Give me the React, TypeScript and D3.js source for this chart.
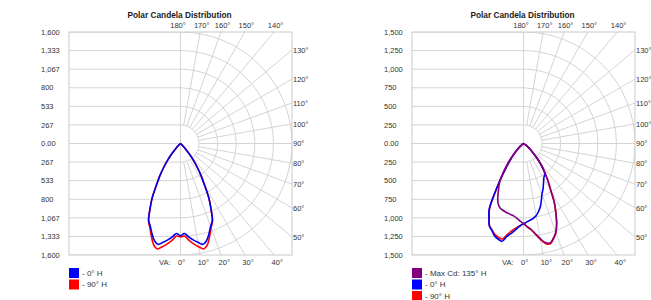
import {useEffect, useRef} from 'react';
import * as d3 from 'd3';

// vertical angles (deg), 0 = straight down
const vertAngles = [0, 2.5, 5, 7.5, 10, 12.5, 15, 17.5, 20, 22.5, 25, 27.5, 30, 32.5, 35, 37.5, 40, 42.5, 45, 47.5, 50, 55, 60, 65, 70, 75, 80, 85, 90];

// left chart
const leftRings = [0, 266.67, 533.33, 800, 1066.67, 1333.33, 1600];
const leftRingLabels = ['0.00', '267', '533', '800', '1,067', '1,333', '1,600'];
const leftBlue0H = [1324, 1292, 1345, 1395, 1440, 1482, 1445, 1358, 1265, 1195, 1035, 880, 692, 555, 425, 305, 198, 102, 52, 25, 10, 3, 0, 0, 0, 0, 0, 0, 0];
const leftRed90H = [1340, 1330, 1395, 1452, 1505, 1549, 1500, 1392, 1285, 1200, 1035, 880, 692, 555, 425, 305, 198, 102, 52, 25, 10, 3, 0, 0, 0, 0, 0, 0, 0];
const leftLegend = ['- 0° H', '- 90° H'];

// right chart
const rightRings = [0, 250, 500, 750, 1000, 1250, 1500];
const rightRingLabels = ['0.00', '250', '500', '750', '1,000', '1,250', '1,500'];
const max135H = [1076, 1118, 1158, 1225, 1300, 1365, 1385, 1335, 1270, 1165, 1030, 900, 740, 630, 530, 440, 355, 275, 195, 140, 95, 45, 15, 5, 0, 0, 0, 0, 0];
const max315H = [1076, 1045, 1010, 985, 972, 962, 950, 938, 922, 885, 820, 735, 660, 583, 480, 370, 280, 190, 125, 80, 50, 20, 5, 0, 0, 0, 0, 0, 0];
const blue0H = [1078, 1055, 1035, 1015, 985, 935, 878, 800, 725, 680, 630, 585, 545, 520, 500, 440, 355, 275, 195, 140, 95, 45, 15, 5, 0, 0, 0, 0, 0];
const blue180H = [1082, 1110, 1160, 1215, 1265, 1348, 1330, 1300, 1245, 1200, 1100, 1000, 780, 590, 440, 330, 250, 180, 125, 80, 50, 20, 5, 0, 0, 0, 0, 0, 0];
const red90H = [1080, 1122, 1165, 1232, 1310, 1380, 1398, 1345, 1275, 1165, 1030, 900, 740, 630, 530, 440, 355, 275, 195, 140, 95, 45, 15, 5, 0, 0, 0, 0, 0];
const red270H = [1080, 1110, 1140, 1182, 1240, 1316, 1308, 1282, 1238, 1195, 1090, 990, 770, 585, 435, 325, 245, 178, 122, 78, 48, 18, 5, 0, 0, 0, 0, 0, 0];
const rightLegend = ['- Max Cd: 135° H', '- 0° H', '- 90° H'];

const gridAngles = d3.range(0, 190, 10);

const R = 111.5;
const CY = 143.5;
const FONT = 'Liberation Sans, Arial, sans-serif';

function drawChart(svg, cx, rings, ringLabels, series, legend) {
    const maxCd = rings[rings.length - 1];
    const r = d3.scaleLinear().domain([0, maxCd]).range([0, R]);
    const left = cx - R;
    const right = cx + R;
    const top = CY - R;
    const bottom = CY + R;
    const gridColor = '#d4d4d4';
    const textColor = '#333';
    const g = svg.append('g').attr('font-family', FONT);

    g.append('text')
        .attr('x', cx - 1)
        .attr('y', 18)
        .attr('text-anchor', 'middle')
        .attr('font-weight', 'bold')
        .attr('font-size', 8.3)
        .attr('fill', '#1a1a1a')
        .text('Polar Candela Distribution');

    const clipId = `clip-${Math.round(cx)}`;
    svg.append('clipPath').attr('id', clipId)
        .append('rect').attr('x', left).attr('y', top).attr('width', 2 * R).attr('height', 2 * R);

    const grid = g.append('g').attr('clip-path', `url(#${clipId})`)
        .attr('stroke', gridColor).attr('fill', 'none').attr('stroke-width', 1);

    // horizontal lines, left half
    rings.forEach((v) => {
        [-1, 1].forEach((s) => {
            grid.append('line')
                .attr('x1', left).attr('x2', cx)
                .attr('y1', CY + s * r(v)).attr('y2', CY + s * r(v));
        });
    });

    // arcs, right half
    rings.filter((v) => v > 0).forEach((v) => {
        const p = d3.path();
        p.moveTo(cx, CY - r(v));
        p.arc(cx, CY, r(v), -Math.PI / 2, Math.PI / 2);
        grid.append('path').attr('d', p.toString());
    });

    // vertical line
    grid.append('line').attr('x1', cx).attr('x2', cx).attr('y1', top).attr('y2', bottom);

    // radial lines + labels
    const r0 = r(rings[1]);
    gridAngles.forEach((va) => {
        const a = (va * Math.PI) / 180;
        const sx = Math.sin(a);
        const sy = Math.cos(a);
        if (va > 0 && va < 180) {
            const t = Math.min(R / sx, Math.abs(sy) > 1e-6 ? R / Math.abs(sy) : Infinity);
            grid.append('line')
                .attr('x1', cx + r0 * sx).attr('y1', CY + r0 * sy)
                .attr('x2', cx + t * sx).attr('y2', CY + t * sy);
        }
        const lab = g.append('text').attr('font-size', 7.5).attr('fill', textColor).text(`${va}°`);
        if (va <= 40) {
            lab.attr('x', cx + R * Math.tan(a) - 2.5).attr('y', bottom + 10);
        } else if (va <= 130) {
            lab.attr('x', right + 1).attr('y', CY + (R * sy) / sx + 2.7);
        } else {
            const x = cx + R * Math.tan(Math.PI - a);
            lab.attr('x', va === 180 ? x - 2.5 : x + 1.5).attr('y', top - 4.5).attr('text-anchor', 'middle');
        }
    });

    g.append('text').attr('font-size', 7.5).attr('fill', textColor)
        .attr('x', cx - 21.5).attr('y', bottom + 10).text('VA:');

    // box
    g.append('rect').attr('x', left).attr('y', top).attr('width', 2 * R).attr('height', 2 * R)
        .attr('fill', 'none').attr('stroke', '#cacaca');

    // y labels
    rings.forEach((v, i) => {
        const ys = v === 0 ? [CY] : [CY - r(v), CY + r(v)];
        ys.forEach((y) => {
            g.append('text').attr('x', cx - 139.5).attr('y', y + 2.7)
                .attr('font-size', 7.5).attr('fill', textColor).text(ringLabels[i]);
        });
    });

    // curves
    const line = d3.lineRadial()
        .angle((d) => d[0])
        .radius((d) => d[1])
        .curve(d3.curveCatmullRom.alpha(0.5));

    const plot = g.append('g').attr('transform', `translate(${cx},${CY})`);
    series.forEach((s) => {
        const pts = [];
        for (let i = vertAngles.length - 1; i >= 0; i--) {
            pts.push([Math.PI + (vertAngles[i] * Math.PI) / 180, r(s.left[i])]);
        }
        for (let i = 1; i < vertAngles.length; i++) {
            pts.push([Math.PI - (vertAngles[i] * Math.PI) / 180, r(s.right[i])]);
        }
        plot.append('path').attr('d', line(pts))
            .attr('fill', 'none').attr('stroke', s.color).attr('stroke-width', 1.6)
            .attr('stroke-linejoin', 'round');
    });

    // legend
    legend.forEach((d, i) => {
        const y = 268 + i * 11.5;
        g.append('rect').attr('x', left).attr('y', y).attr('width', 10).attr('height', 10)
            .attr('fill', d.color);
        g.append('text').attr('x', left + 13).attr('y', y + 7.6).attr('font-size', 8)
            .attr('fill', textColor).text(d.label);
    });
}

export default function App() {
    const ref = useRef(null);

    useEffect(() => {
        const svg = d3.select(ref.current);
        svg.selectAll('*').remove();

        drawChart(svg, 180.5, leftRings, leftRingLabels,
            [
                {color: '#ff0000', left: leftRed90H, right: leftRed90H},
                {color: '#0000ee', left: leftBlue0H, right: leftBlue0H},
            ],
            [
                {color: '#0000ff', label: leftLegend[0]},
                {color: '#ff0000', label: leftLegend[1]},
            ]);

        drawChart(svg, 523.5, rightRings, rightRingLabels,
            [
                {color: '#ff0000', left: red270H, right: red90H},
                {color: '#0000ee', left: blue180H, right: blue0H},
                {color: '#800080', left: max315H, right: max135H},
            ],
            [
                {color: '#800080', label: rightLegend[0]},
                {color: '#0000ff', label: rightLegend[1]},
                {color: '#ff0000', label: rightLegend[2]},
            ]);
    }, []);

    return (
        <svg ref={ref} width={651} height={300}
            style={{position: 'absolute', left: 0, top: 0, background: '#fff'}} />
    );
}
